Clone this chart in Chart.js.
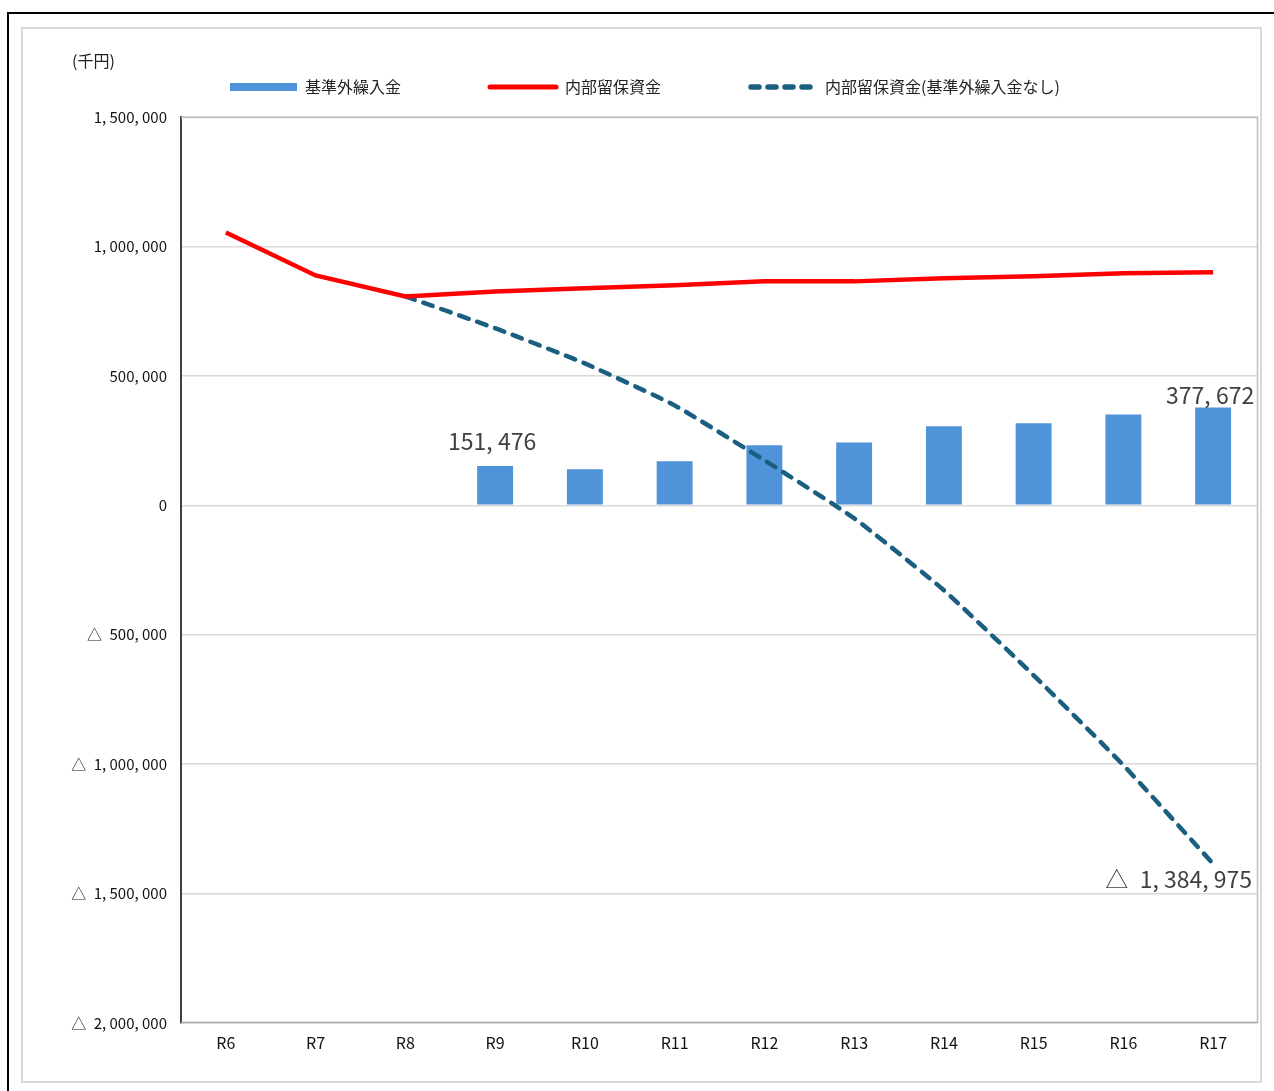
<!DOCTYPE html>
<html>
<head>
<meta charset="utf-8">
<script src="https://cdn.jsdelivr.net/npm/chart.js@4"></script>
<style>
body { margin: 0; background: #fff; }
</style>
</head>
<body>
<canvas id="chart" width="1274" height="1091"></canvas>
<script>
// 年度
var years = ["R6", "R7", "R8", "R9", "R10", "R11", "R12", "R13", "R14", "R15", "R16", "R17"];
// 基準外繰入金（千円）
var transfer = [null, null, null, 151476, 139000, 170000, 232000, 243000, 305000, 317000, 351000, 377672];
// 内部留保資金
var reserve = [1054000, 888000, 807000, 826000, 838000, 850000, 865000, 865000, 877000, 885000, 896000, 900000];
// 内部留保資金（基準外繰入金なし）
var reserveNoTransfer = [null, null, 807000, 684000, 548000, 386000, 174000, -50000, -328000, -657000, -1004000, -1384975];
// 目盛り
var yTicks = [1500000, 1000000, 500000, 0, -500000, -1000000, -1500000, -2000000];

var FONT = '"Noto Sans CJK JP", "Noto Sans", sans-serif';

function fmt(v) {
	var s = Math.abs(v).toLocaleString('en-US').replace(/,/g, ', ');
	return v < 0 ? '△\u2002' + s : s;
}

var framePlugin = {
	id: 'frame',
	beforeDraw: function (chart) {
		var ctx = chart.ctx;
		ctx.save();
		ctx.fillStyle = '#fff';
		ctx.fillRect(0, 0, chart.width, chart.height);
		// 外枠
		ctx.strokeStyle = '#000';
		ctx.lineWidth = 2;
		ctx.strokeRect(8, 13, 1300, 1200);
		// グラフ枠
		ctx.strokeStyle = '#d9d9d9';
		ctx.lineWidth = 2;
		ctx.strokeRect(22, 28, 1239, 1054);
		ctx.restore();
	},
	beforeDatasetsDraw: function (chart) {
		var ctx = chart.ctx, a = chart.chartArea;
		ctx.save();
		ctx.strokeStyle = '#bfbfbf';
		ctx.lineWidth = 1.5;
		ctx.beginPath();
		ctx.moveTo(a.left, a.top + 0.5);
		ctx.lineTo(a.right - 0.5, a.top + 0.5);
		ctx.lineTo(a.right - 0.5, a.bottom);
		ctx.stroke();
		ctx.strokeStyle = '#a6a6a6';
		ctx.beginPath();
		ctx.moveTo(a.left, a.bottom - 0.5);
		ctx.lineTo(a.right, a.bottom - 0.5);
		ctx.stroke();
		ctx.restore();
	},
	afterDraw: function (chart) {
		var ctx = chart.ctx;
		var x = chart.scales.x, y = chart.scales.y;
		ctx.save();
		// 単位
		ctx.fillStyle = '#222';
		ctx.font = '16px ' + FONT;
		ctx.textBaseline = 'middle';
		ctx.textAlign = 'left';
		ctx.fillText('(千円)', 72, 61);

		// 凡例
		var ly = 87;
		ctx.fillStyle = '#4f94d9';
		ctx.fillRect(230, ly - 4, 67, 8);
		ctx.fillStyle = '#222';
		ctx.font = '16px ' + FONT;
		ctx.fillText('基準外繰入金', 305, ly);

		ctx.lineCap = 'round';
		ctx.strokeStyle = '#ff0000';
		ctx.lineWidth = 5;
		ctx.beginPath();
		ctx.moveTo(490, ly);
		ctx.lineTo(556, ly);
		ctx.stroke();
		ctx.fillText('内部留保資金', 565, ly);

		ctx.strokeStyle = '#1a5e80';
		ctx.lineWidth = 5.5;
		ctx.setLineDash([8, 9]);
		ctx.beginPath();
		ctx.moveTo(751, ly);
		ctx.lineTo(818, ly);
		ctx.stroke();
		ctx.setLineDash([]);
		ctx.fillText('内部留保資金(基準外繰入金なし)', 825, ly);

		// データラベル
		ctx.fillStyle = '#404040';
		ctx.font = '23px ' + FONT;
		ctx.textAlign = 'center';
		ctx.textBaseline = 'bottom';
		ctx.fillText(fmt(transfer[3]), x.getPixelForValue(3) - 3, y.getPixelForValue(transfer[3]) - 13);
		ctx.fillText(fmt(transfer[11]), x.getPixelForValue(11) - 3, y.getPixelForValue(transfer[11]) - 1);
		ctx.textAlign = 'right';
		ctx.textBaseline = 'top';
		ctx.fillText(fmt(reserveNoTransfer[11]), x.getPixelForValue(11) + 39, y.getPixelForValue(reserveNoTransfer[11]) + 4);
		ctx.restore();
	}
};

new Chart(document.getElementById("chart"), {
	type: 'bar',
	data: {
		labels: years,
		datasets: [{
			type: 'line',
			label: '内部留保資金',
			data: reserve,
			borderColor: '#ff0000',
			backgroundColor: '#ff0000',
			borderWidth: 4.5,
			pointRadius: 0,
			tension: 0,
			order: 1
		}, {
			type: 'line',
			label: '内部留保資金(基準外繰入金なし)',
			data: reserveNoTransfer,
			borderColor: '#1a5e80',
			backgroundColor: '#1a5e80',
			borderWidth: 4.5,
			borderDash: [10, 9],
			borderCapStyle: 'round',
			pointRadius: 0,
			tension: 0.15,
			spanGaps: false,
			order: 2
		}, {
			label: '基準外繰入金',
			data: transfer,
			backgroundColor: '#4f94d9',
			barPercentage: 0.5,
			categoryPercentage: 0.8,
			order: 3
		}]
	},
	options: {
		responsive: false,
		animation: false,
		layout: { padding: { top: 117, right: 16, left: 0, bottom: 0 } },
		plugins: {
			legend: { display: false },
			tooltip: { enabled: false }
		},
		scales: {
			x: {
				grid: { display: false, drawTicks: false },
				border: { display: false },
				ticks: { color: '#111', font: { family: FONT, size: 16 }, padding: 10 },
				afterFit: function (s) { s.height = 68; }
			},
			y: {
				min: -2000000,
				max: 1500000,
				afterBuildTicks: function (s) {
					s.ticks = yTicks.map(function (v) { return { value: v }; });
				},
				grid: { color: '#d9d9d9', lineWidth: 1.5, drawTicks: false },
				border: { color: '#404040', width: 2 },
				ticks: {
					color: '#111',
					font: { family: FONT, size: 15 },
					padding: 14,
					callback: function (v) { return fmt(v); }
				},
				afterFit: function (s) { s.width = 181; }
			}
		}
	},
	plugins: [framePlugin]
});
</script>
</body>
</html>
